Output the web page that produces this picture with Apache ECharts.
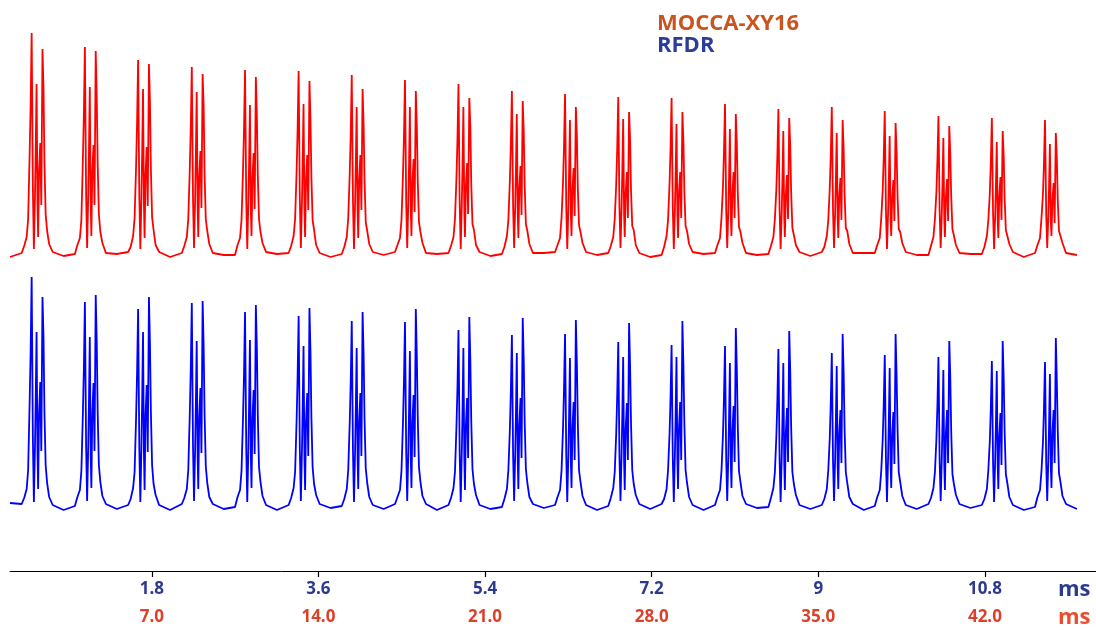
<!DOCTYPE html>
<html>
<head>
<meta charset="utf-8">
<title>MOCCA-XY16 vs RFDR</title>
<script src="https://cdn.jsdelivr.net/npm/echarts@6/dist/echarts.min.js"></script>
<style>
  html, body { margin: 0; padding: 0; background: #fff; }
  #chart { width: 1096px; height: 630px; }
</style>
</head>
<body>
<div id="chart"></div>
<script>
  // time (ms, RFDR scale) of the first spike in each echo group
  const groupTimes = [0.502, 1.077, 1.652, 2.232, 2.807, 3.386, 3.960, 4.535, 5.113, 5.690,
    6.264, 6.839, 7.415, 7.992, 8.569, 9.146, 9.718, 10.298, 10.875, 11.449]

  // sample times inside one group, relative to the first spike (ms)
  const spikeOffsets = [-0.108, -0.081, -0.054, -0.038, -0.022, -0.011, 0, 0.013, 0.024, 0.036,
    0.044, 0.053, 0.063, 0.070, 0.080, 0.093, 0.104, 0.117, 0.128, 0.138,
    0.151, 0.167, 0.189, 0.227, 0.345]

  const traceStart = 0.268
  const redStartValue = -2
  const blueStartValue = 4

  // MOCCA-XY16 intensities per group (a.u., baseline = 0)
  const redGroups = [
    [2, 9, 18, 36, 100, 151, 222, 67, 6, 60, 106, 171, 51, 18, 84, 112, 50, 206, 166, 93, 41, 24, 11, 3, -1],
    [1, 10, 17, 35, 94, 141, 208, 62, 7, 59, 104, 168, 50, 19, 83, 110, 50, 204, 157, 92, 41, 23, 12, 2, 1],
    [3, 8, 19, 37, 88, 133, 195, 59, 6, 58, 103, 166, 50, 17, 81, 108, 49, 191, 152, 86, 38, 25, 10, 3, -2],
    [2, 9, 18, 36, 85, 128, 188, 56, 7, 57, 101, 163, 49, 18, 78, 104, 47, 181, 148, 81, 36, 24, 11, 2, 0],
    [0, 10, 17, 35, 83, 126, 185, 56, 6, 53, 93, 150, 45, 19, 77, 102, 46, 178, 138, 80, 36, 23, 12, 3, 1],
    [2, 9, 19, 36, 83, 125, 184, 55, 7, 53, 94, 151, 45, 18, 75, 100, 45, 174, 135, 78, 35, 25, 10, 2, -2],
    [1, 8, 18, 37, 81, 122, 180, 54, 6, 52, 92, 148, 44, 17, 75, 100, 45, 166, 130, 75, 33, 24, 11, 3, 0],
    [3, 10, 17, 35, 79, 119, 175, 53, 7, 52, 92, 148, 44, 19, 72, 96, 43, 164, 128, 74, 33, 23, 12, 2, 1],
    [2, 9, 18, 36, 77, 116, 171, 51, 6, 52, 92, 148, 44, 18, 69, 92, 41, 157, 128, 71, 31, 25, 10, 3, -1],
    [1, 8, 19, 35, 74, 112, 164, 49, 7, 49, 87, 141, 42, 17, 67, 89, 40, 154, 122, 69, 31, 24, 11, 2, 2],
    [3, 10, 17, 37, 72, 109, 161, 48, 6, 47, 84, 135, 41, 19, 65, 87, 39, 148, 118, 67, 30, 23, 12, 3, 0],
    [2, 9, 18, 36, 71, 107, 158, 47, 7, 48, 84, 136, 41, 18, 62, 83, 37, 143, 115, 64, 29, 25, 10, 2, -2],
    [0, 8, 19, 35, 71, 107, 157, 47, 6, 46, 81, 131, 39, 17, 62, 83, 37, 143, 113, 64, 29, 24, 11, 3, 1],
    [2, 10, 17, 37, 68, 103, 151, 45, 7, 44, 78, 126, 38, 19, 62, 83, 37, 141, 110, 63, 28, 23, 12, 2, 0],
    [1, 9, 18, 36, 66, 99, 146, 44, 6, 43, 77, 124, 37, 18, 60, 80, 36, 137, 108, 62, 27, 25, 10, 3, -1],
    [3, 8, 19, 35, 67, 101, 148, 44, 7, 43, 76, 122, 37, 17, 58, 77, 35, 135, 105, 61, 27, 24, 11, 2, 2],
    [2, 10, 17, 37, 65, 98, 144, 43, 6, 42, 74, 119, 36, 19, 56, 75, 34, 132, 103, 59, 26, 23, 12, 3, 0],
    [0, 9, 18, 36, 63, 95, 139, 42, 7, 41, 73, 117, 35, 18, 57, 76, 34, 129, 100, 58, 26, 25, 10, 2, 1],
    [1, 8, 19, 35, 62, 93, 137, 41, 6, 40, 70, 113, 34, 17, 59, 78, 35, 124, 98, 56, 25, 24, 11, 3, -2],
    [2, 10, 17, 37, 61, 92, 135, 41, 7, 39, 69, 111, 33, 19, 54, 72, 32, 122, 96, 55, 24, 23, 12, 2, 0]
  ]

  // RFDR intensities per group (a.u., baseline = 0)
  const blueGroups = [
    [3, 9, 18, 37, 104, 156, 230, 69, 5, 61, 109, 175, 53, 18, 94, 125, 56, 210, 169, 95, 42, 24, 10, 2, -3],
    [1, 10, 17, 36, 92, 139, 205, 62, 6, 60, 105, 170, 51, 19, 93, 124, 56, 212, 165, 95, 42, 25, 11, 3, -2],
    [2, 8, 19, 35, 89, 135, 198, 59, 5, 61, 109, 175, 53, 17, 92, 122, 55, 210, 163, 95, 42, 23, 12, 2, -3],
    [3, 9, 18, 37, 92, 139, 204, 61, 6, 58, 103, 166, 50, 18, 89, 119, 54, 206, 160, 93, 41, 24, 10, 3, -2],
    [0, 10, 17, 36, 88, 133, 195, 59, 5, 58, 104, 167, 50, 19, 88, 117, 53, 202, 158, 91, 40, 25, 11, 2, -3],
    [2, 9, 19, 35, 86, 130, 191, 57, 6, 56, 100, 161, 48, 17, 86, 114, 51, 199, 155, 90, 40, 23, 12, 3, -1],
    [1, 8, 18, 37, 84, 126, 186, 56, 5, 56, 99, 159, 48, 18, 86, 114, 51, 195, 152, 88, 39, 24, 10, 2, -2],
    [3, 10, 17, 36, 83, 126, 185, 56, 6, 55, 97, 156, 47, 19, 84, 112, 50, 198, 150, 89, 40, 25, 11, 3, -3],
    [2, 9, 19, 35, 80, 120, 177, 53, 5, 56, 99, 159, 48, 17, 82, 109, 49, 190, 147, 86, 38, 23, 12, 2, -2],
    [0, 8, 18, 37, 77, 117, 172, 52, 6, 54, 95, 154, 46, 18, 82, 109, 49, 189, 145, 85, 38, 24, 10, 3, -1],
    [2, 10, 17, 36, 78, 118, 173, 52, 5, 52, 92, 149, 45, 19, 79, 105, 47, 187, 143, 84, 37, 25, 11, 2, -3],
    [1, 9, 19, 35, 74, 112, 165, 50, 6, 53, 93, 150, 45, 17, 78, 104, 47, 184, 140, 83, 37, 23, 12, 3, -2],
    [3, 8, 18, 37, 73, 110, 162, 49, 5, 53, 93, 150, 45, 18, 79, 105, 47, 186, 140, 84, 37, 24, 10, 2, -3],
    [2, 10, 17, 36, 72, 109, 161, 48, 6, 50, 89, 144, 43, 19, 76, 101, 45, 179, 137, 81, 36, 25, 11, 3, -1],
    [0, 9, 19, 35, 71, 107, 158, 47, 5, 50, 89, 144, 43, 17, 74, 99, 45, 176, 135, 79, 35, 23, 12, 2, -2],
    [2, 8, 18, 37, 69, 105, 154, 46, 6, 49, 87, 141, 42, 18, 73, 97, 44, 173, 133, 78, 35, 24, 10, 3, -3],
    [1, 10, 17, 36, 68, 103, 152, 46, 5, 49, 86, 139, 42, 19, 71, 95, 43, 173, 131, 78, 35, 25, 11, 2, -2],
    [3, 9, 19, 35, 68, 102, 150, 45, 6, 48, 85, 137, 41, 17, 73, 97, 44, 166, 129, 75, 33, 23, 12, 3, -1],
    [2, 8, 18, 37, 66, 99, 146, 44, 5, 48, 84, 136, 41, 18, 71, 94, 42, 166, 127, 75, 33, 24, 10, 2, -3],
    [0, 10, 17, 36, 65, 99, 145, 44, 6, 47, 82, 133, 40, 19, 73, 97, 44, 169, 125, 76, 34, 25, 11, 3, -2]
  ]

  const blueTicks = [1.8, 3.6, 5.4, 7.2, 9, 10.8]
  const redTicks = [7, 14, 21, 28, 35, 42]
  const scaleRatio = 7 / 1.8 // MOCCA ms per RFDR ms

  function buildTrace(startValue, groups) {
    const pts = [[traceStart, startValue]]
    groupTimes.forEach((t, g) => {
      spikeOffsets.forEach((o, k) => {
        pts.push([+(t + o).toFixed(4), groups[g][k]])
      })
    })
    return pts
  }

  const chart = echarts.init(document.getElementById('chart'))
  const font = '"Open Sans", "Noto Sans", sans-serif'

  chart.setOption({
    animation: false,
    legend: {
      left: 647,
      top: 8,
      orient: 'vertical',
      itemWidth: 0,
      itemHeight: 0,
      itemGap: 0,
      selectedMode: false,
      textStyle: { fontFamily: font, fontWeight: 'bold', fontSize: 22, lineHeight: 22 },
      data: [
        { name: 'MOCCA-XY16', icon: 'rect', textStyle: { color: '#C9541F' } },
        { name: 'RFDR', icon: 'rect', textStyle: { color: '#2C3D99' } }
      ]
    },
    grid: { left: 10, right: 0, top: 0, bottom: 59 },
    xAxis: [
      {
        type: 'value',
        min: traceStart,
        max: 12,
        splitLine: { show: false },
        axisLine: { onZero: false, lineStyle: { color: '#000', width: 1 } },
        axisTick: { show: true, customValues: blueTicks, length: 6, lineStyle: { color: '#000', width: 1.2 } },
        axisLabel: {
          customValues: blueTicks,
          margin: 10,
          color: '#2B3990',
          fontFamily: font,
          fontWeight: 'bold',
          fontSize: 17
        }
      },
      {
        type: 'value',
        position: 'bottom',
        offset: 28,
        min: traceStart * scaleRatio,
        max: 12 * scaleRatio,
        splitLine: { show: false },
        axisLine: { show: false, onZero: false },
        axisTick: { show: false },
        axisLabel: {
          customValues: redTicks,
          margin: 10,
          color: '#DB4229',
          fontFamily: font,
          fontWeight: 'bold',
          fontSize: 17,
          formatter: (v) => v.toFixed(1)
        }
      }
    ],
    yAxis: [
      { type: 'value', min: -316, max: 255, show: false },
      { type: 'value', min: -64, max: 507, show: false }
    ],
    graphic: [
      {
        type: 'text',
        left: 1058,
        top: 579,
        style: { text: 'ms', fill: '#2B3990', font: 'bold 22px ' + font }
      },
      {
        type: 'text',
        left: 1058,
        top: 607,
        style: { text: 'ms', fill: '#EE4A2B', font: 'bold 22px ' + font }
      }
    ],
    series: [
      {
        name: 'MOCCA-XY16',
        type: 'line',
        xAxisIndex: 0,
        yAxisIndex: 0,
        showSymbol: false,
        color: '#FF0000',
        lineStyle: { width: 1.8, color: '#FF0000' },
        data: buildTrace(redStartValue, redGroups)
      },
      {
        name: 'RFDR',
        type: 'line',
        xAxisIndex: 0,
        yAxisIndex: 1,
        showSymbol: false,
        color: '#0000FF',
        lineStyle: { width: 1.8, color: '#0000FF' },
        data: buildTrace(blueStartValue, blueGroups)
      }
    ]
  })

  window.addEventListener('resize', () => chart.resize())
</script>
</body>
</html>
